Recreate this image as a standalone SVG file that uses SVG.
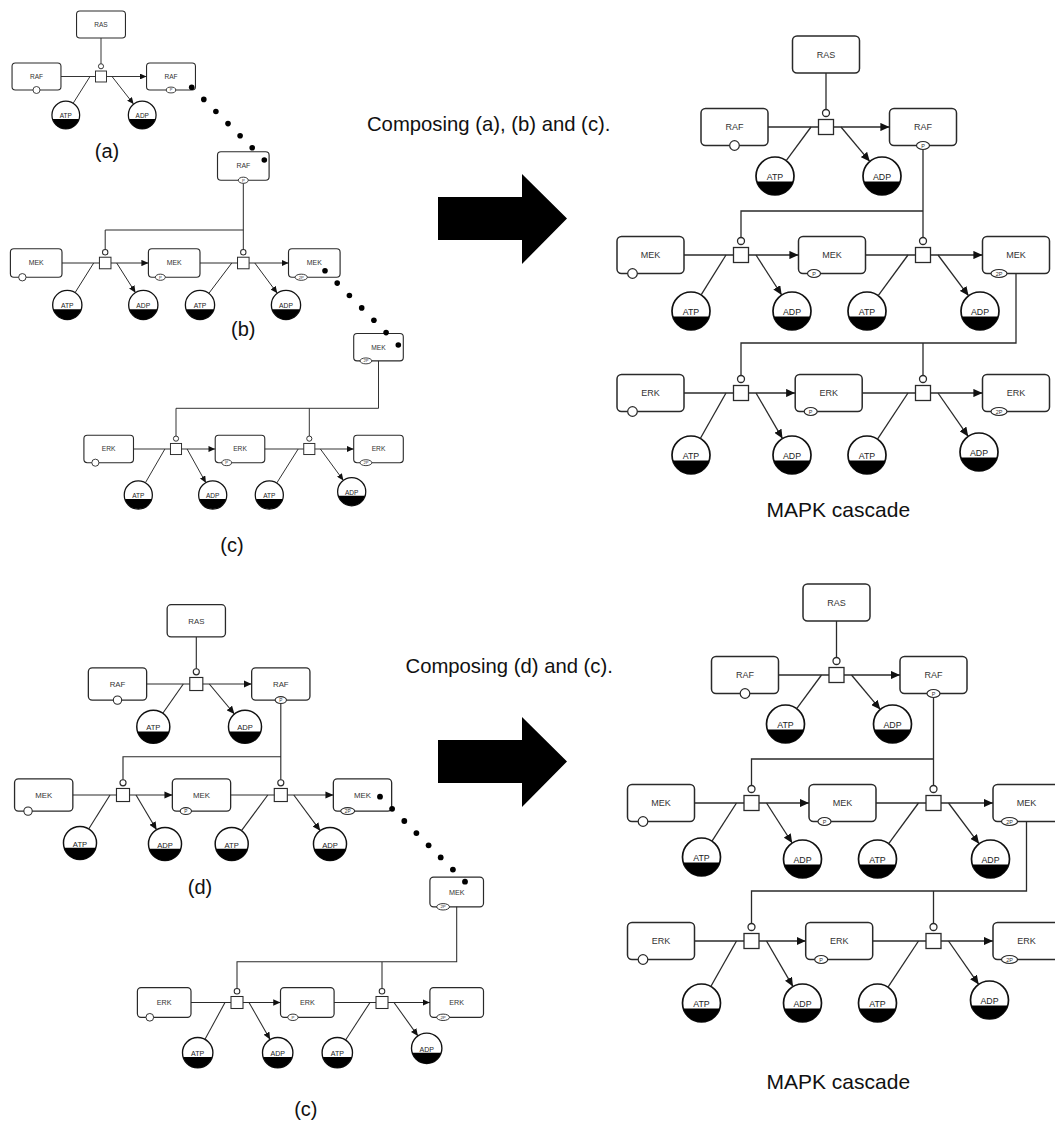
<svg xmlns="http://www.w3.org/2000/svg" xmlns:xlink="http://www.w3.org/1999/xlink" width="1055" height="1122" viewBox="0 0 1055 1122">
  <style>
    .bxr{fill:#fff;stroke:#2a2a2a;stroke-width:1.5}
    .uc{fill:#fff;stroke:#2a2a2a;stroke-width:1.2}
    .lb{font-family:"Liberation Sans",Arial,Helvetica,sans-serif;font-size:9px;fill:#333;text-anchor:middle}
    .sv{font-family:"Liberation Sans",Arial,sans-serif;font-size:5.5px;fill:#333;text-anchor:middle}
    .ch{fill:#fff;stroke:#111;stroke-width:1.7}
    .cl{font-family:"Liberation Sans",Arial,sans-serif;font-size:8.8px;fill:#222;text-anchor:middle}
    .pr{fill:#fff;stroke:#2a2a2a;stroke-width:1.3}
    .cn path{fill:none;stroke:#2a2a2a}
    .cn path.ar{marker-end:url(#ah)}
    .w130 path{stroke-width:1.3}
    .w095 path{stroke-width:0.95}
    .w100 path{stroke-width:1.0}
    .w096 path{stroke-width:0.96}
    .w113 path{stroke-width:1.13}
    .w104 path{stroke-width:1.04}
    .dots circle{fill:#000}
    .cap{font-family:"Liberation Sans",Arial,Helvetica,sans-serif;fill:#111;text-anchor:middle}
  </style>
  <defs>
    <marker id="ah" viewBox="0 0 10 9" refX="10" refY="4.5" markerWidth="7" markerHeight="6.3" orient="auto" markerUnits="strokeWidth">
      <path d="M0,0 L10,4.5 L0,9 Z" fill="#111"/>
    </marker>
    <!-- macromolecule outline -->
    <rect id="bx" x="-33.5" y="-18.5" width="67" height="37" rx="4.5" class="bxr"/>
    <!-- macromolecules with their state / unit-of-information glyphs -->
    <g id="n-ras"><use href="#bx"/><text class="lb" y="3.2">RAS</text></g>
    <g id="n-raf"><use href="#bx"/><text class="lb" y="3.2">RAF</text><circle cx="0" cy="18.5" r="4.8" class="uc"/></g>
    <g id="n-rafp"><use href="#bx"/><text class="lb" y="3.2">RAF</text><ellipse cx="0" cy="18.5" rx="6.5" ry="4" class="uc"/><text class="sv" y="20.5">P</text></g>
    <g id="n-mek"><use href="#bx"/><text class="lb" y="3.2">MEK</text><circle cx="-18" cy="18.5" r="4.8" class="uc"/></g>
    <g id="n-mekp"><use href="#bx"/><text class="lb" y="3.2">MEK</text><ellipse cx="-18" cy="18.5" rx="6.5" ry="4" class="uc"/><text class="sv" x="-18" y="20.5">P</text></g>
    <g id="n-mek2p"><use href="#bx"/><text class="lb" y="3.2">MEK</text><ellipse cx="-17" cy="18.5" rx="8" ry="4" class="uc"/><text class="sv" x="-17" y="20.5">2P</text></g>
    <g id="n-erk"><use href="#bx"/><text class="lb" y="3.2">ERK</text><circle cx="-18" cy="18.5" r="4.8" class="uc"/></g>
    <g id="n-erkp"><use href="#bx"/><text class="lb" y="3.2">ERK</text><ellipse cx="-18" cy="18.5" rx="6.5" ry="4" class="uc"/><text class="sv" x="-18" y="20.5">P</text></g>
    <g id="n-erk2p"><use href="#bx"/><text class="lb" y="3.2">ERK</text><ellipse cx="-17" cy="18.5" rx="8" ry="4" class="uc"/><text class="sv" x="-17" y="20.5">2P</text></g>
    <!-- simple chemicals with clone marker -->
    <g id="n-atp"><circle r="19" class="ch"/><path d="M-18.2,5.5 A19,19 0 0 0 18.2,5.5 Z" fill="#000"/><text class="cl" y="4.2">ATP</text></g>
    <g id="n-adp"><circle r="19" class="ch"/><path d="M-18.2,5.5 A19,19 0 0 0 18.2,5.5 Z" fill="#000"/><text class="cl" y="4.2">ADP</text></g>
    <!-- process node with catalysis port -->
    <g id="n-proc"><rect x="-7.5" y="-7.5" width="15" height="15" class="pr"/><circle cy="-14" r="3.5" class="pr"/></g>
  </defs>

  <rect width="1055" height="1122" fill="#fff"/>

  <!-- ===================== nodes ===================== -->
  <g id="nodes">
    <!-- (a) -->
    <g id="a-ras"><use href="#n-ras" transform="translate(101,24.5) scale(0.73)"/></g>
    <g id="a-raf"><use href="#n-raf" transform="translate(36.5,76.5) scale(0.73)"/></g>
    <g id="a-rafp"><use href="#n-rafp" transform="translate(171,76.5) scale(0.73)"/></g>
    <g id="a-r1"><use href="#n-proc" transform="translate(101,76.5) scale(0.73)"/></g>
    <g id="a-atp"><use href="#n-atp" transform="translate(65.8,115) scale(0.73)"/></g>
    <g id="a-adp"><use href="#n-adp" transform="translate(142.2,115) scale(0.73)"/></g>

    <!-- (b) -->
    <g id="b-rafp"><use href="#n-rafp" transform="translate(243.3,166) scale(0.77)"/></g>
    <g id="b-mek"><use href="#n-mek" transform="translate(36.2,263) scale(0.77)"/></g>
    <g id="b-r1"><use href="#n-proc" transform="translate(105.2,263) scale(0.77)"/></g>
    <g id="b-mekp"><use href="#n-mekp" transform="translate(174.2,263) scale(0.77)"/></g>
    <g id="b-r2"><use href="#n-proc" transform="translate(243.3,263) scale(0.77)"/></g>
    <g id="b-mek2p"><use href="#n-mek2p" transform="translate(314.3,263) scale(0.77)"/></g>
    <g id="b-atp1"><use href="#n-atp" transform="translate(67.3,305) scale(0.77)"/></g>
    <g id="b-adp1"><use href="#n-adp" transform="translate(143.3,305) scale(0.77)"/></g>
    <g id="b-atp2"><use href="#n-atp" transform="translate(200,305) scale(0.77)"/></g>
    <g id="b-adp2"><use href="#n-adp" transform="translate(286,305) scale(0.77)"/></g>

    <!-- (c), upper copy -->
    <g id="c1-mek2p"><use href="#n-mek2p" transform="translate(378.5,347.2) scale(0.74)"/></g>
    <g id="c1-erk"><use href="#n-erk" transform="translate(108.7,449) scale(0.74)"/></g>
    <g id="c1-r1"><use href="#n-proc" transform="translate(176,449) scale(0.74)"/></g>
    <g id="c1-erkp"><use href="#n-erkp" transform="translate(240,449) scale(0.74)"/></g>
    <g id="c1-r2"><use href="#n-proc" transform="translate(309.3,449) scale(0.74)"/></g>
    <g id="c1-erk2p"><use href="#n-erk2p" transform="translate(378.5,449) scale(0.74)"/></g>
    <g id="c1-atp1"><use href="#n-atp" transform="translate(138.3,495) scale(0.74)"/></g>
    <g id="c1-adp1"><use href="#n-adp" transform="translate(212.7,495) scale(0.74)"/></g>
    <g id="c1-atp2"><use href="#n-atp" transform="translate(269.3,495) scale(0.74)"/></g>
    <g id="c1-adp2"><use href="#n-adp" transform="translate(351.7,491.7) scale(0.74)"/></g>

    <!-- (d) -->
    <g id="d-ras"><use href="#n-ras" transform="translate(196.3,620.8) scale(0.87)"/></g>
    <g id="d-raf"><use href="#n-raf" transform="translate(117.5,684) scale(0.87)"/></g>
    <g id="d-r0"><use href="#n-proc" transform="translate(196.3,684) scale(0.87)"/></g>
    <g id="d-rafp"><use href="#n-rafp" transform="translate(280.8,684) scale(0.87)"/></g>
    <g id="d-atp0"><use href="#n-atp" transform="translate(153.3,726.7) scale(0.87)"/></g>
    <g id="d-adp0"><use href="#n-adp" transform="translate(245,726.7) scale(0.87)"/></g>
    <g id="d-mek"><use href="#n-mek" transform="translate(43.7,795) scale(0.87)"/></g>
    <g id="d-r1"><use href="#n-proc" transform="translate(123,795) scale(0.87)"/></g>
    <g id="d-mekp"><use href="#n-mekp" transform="translate(201.5,795) scale(0.87)"/></g>
    <g id="d-r2"><use href="#n-proc" transform="translate(280.8,795) scale(0.87)"/></g>
    <g id="d-mek2p"><use href="#n-mek2p" transform="translate(362.5,795) scale(0.87)"/></g>
    <g id="d-atp1"><use href="#n-atp" transform="translate(80,843) scale(0.87)"/></g>
    <g id="d-adp1"><use href="#n-adp" transform="translate(165,844) scale(0.87)"/></g>
    <g id="d-atp2"><use href="#n-atp" transform="translate(231.7,844) scale(0.87)"/></g>
    <g id="d-adp2"><use href="#n-adp" transform="translate(330,844) scale(0.87)"/></g>

    <!-- (c), lower copy -->
    <g id="c2-mek2p"><use href="#n-mek2p" transform="translate(456.7,892) scale(0.8)"/></g>
    <g id="c2-erk"><use href="#n-erk" transform="translate(164.2,1002.5) scale(0.8)"/></g>
    <g id="c2-r1"><use href="#n-proc" transform="translate(237,1002.5) scale(0.8)"/></g>
    <g id="c2-erkp"><use href="#n-erkp" transform="translate(307.3,1002.5) scale(0.8)"/></g>
    <g id="c2-r2"><use href="#n-proc" transform="translate(382,1002.5) scale(0.8)"/></g>
    <g id="c2-erk2p"><use href="#n-erk2p" transform="translate(456.7,1002.5) scale(0.8)"/></g>
    <g id="c2-atp1"><use href="#n-atp" transform="translate(197.7,1052.7) scale(0.8)"/></g>
    <g id="c2-adp1"><use href="#n-adp" transform="translate(277.7,1052.7) scale(0.8)"/></g>
    <g id="c2-atp2"><use href="#n-atp" transform="translate(337.3,1052.7) scale(0.8)"/></g>
    <g id="c2-adp2"><use href="#n-adp" transform="translate(426.7,1048.3) scale(0.8)"/></g>

    <!-- composed cascade, upper -->
    <g id="m1-ras"><use href="#n-ras" transform="translate(826,54.5)"/></g>
    <g id="m1-raf"><use href="#n-raf" transform="translate(734.5,127)"/></g>
    <g id="m1-r0"><use href="#n-proc" transform="translate(826,127)"/></g>
    <g id="m1-rafp"><use href="#n-rafp" transform="translate(923,127)"/></g>
    <g id="m1-atp0"><use href="#n-atp" transform="translate(775,176)"/></g>
    <g id="m1-adp0"><use href="#n-adp" transform="translate(882,176)"/></g>
    <g id="m1-mek"><use href="#n-mek" transform="translate(650.5,255)"/></g>
    <g id="m1-r1"><use href="#n-proc" transform="translate(741,255)"/></g>
    <g id="m1-mekp"><use href="#n-mekp" transform="translate(832,255)"/></g>
    <g id="m1-r2"><use href="#n-proc" transform="translate(923,255)"/></g>
    <g id="m1-mek2p"><use href="#n-mek2p" transform="translate(1016,255)"/></g>
    <g id="m1-atp1"><use href="#n-atp" transform="translate(691,311)"/></g>
    <g id="m1-adp1"><use href="#n-adp" transform="translate(792,311)"/></g>
    <g id="m1-atp2"><use href="#n-atp" transform="translate(867,311)"/></g>
    <g id="m1-adp2"><use href="#n-adp" transform="translate(980,311)"/></g>
    <g id="m1-erk"><use href="#n-erk" transform="translate(650.5,393)"/></g>
    <g id="m1-r3"><use href="#n-proc" transform="translate(741,393)"/></g>
    <g id="m1-erkp"><use href="#n-erkp" transform="translate(828.7,393)"/></g>
    <g id="m1-r4"><use href="#n-proc" transform="translate(923,393)"/></g>
    <g id="m1-erk2p"><use href="#n-erk2p" transform="translate(1016,393)"/></g>
    <g id="m1-atp3"><use href="#n-atp" transform="translate(691,455)"/></g>
    <g id="m1-adp3"><use href="#n-adp" transform="translate(792,455)"/></g>
    <g id="m1-atp4"><use href="#n-atp" transform="translate(867,455)"/></g>
    <g id="m1-adp4"><use href="#n-adp" transform="translate(979,452)"/></g>

    <!-- composed cascade, lower (same layout, shifted) -->
    <g transform="translate(10.5,548)">
      <g id="m2-ras"><use href="#n-ras" transform="translate(826,54.5)"/></g>
      <g id="m2-raf"><use href="#n-raf" transform="translate(734.5,127)"/></g>
      <g id="m2-r0"><use href="#n-proc" transform="translate(826,127)"/></g>
      <g id="m2-rafp"><use href="#n-rafp" transform="translate(923,127)"/></g>
      <g id="m2-atp0"><use href="#n-atp" transform="translate(775,176)"/></g>
      <g id="m2-adp0"><use href="#n-adp" transform="translate(882,176)"/></g>
      <g id="m2-mek"><use href="#n-mek" transform="translate(650.5,255)"/></g>
      <g id="m2-r1"><use href="#n-proc" transform="translate(741,255)"/></g>
      <g id="m2-mekp"><use href="#n-mekp" transform="translate(832,255)"/></g>
      <g id="m2-r2"><use href="#n-proc" transform="translate(923,255)"/></g>
      <g id="m2-mek2p"><use href="#n-mek2p" transform="translate(1016,255)"/></g>
      <g id="m2-atp1"><use href="#n-atp" transform="translate(691,309)"/></g>
      <g id="m2-adp1"><use href="#n-adp" transform="translate(792,311)"/></g>
      <g id="m2-atp2"><use href="#n-atp" transform="translate(867,311)"/></g>
      <g id="m2-adp2"><use href="#n-adp" transform="translate(980,311)"/></g>
      <g id="m2-erk"><use href="#n-erk" transform="translate(650.5,393)"/></g>
      <g id="m2-r3"><use href="#n-proc" transform="translate(741,393)"/></g>
      <g id="m2-erkp"><use href="#n-erkp" transform="translate(828.7,393)"/></g>
      <g id="m2-r4"><use href="#n-proc" transform="translate(923,393)"/></g>
      <g id="m2-erk2p"><use href="#n-erk2p" transform="translate(1016,393)"/></g>
      <g id="m2-atp3"><use href="#n-atp" transform="translate(691,455)"/></g>
      <g id="m2-adp3"><use href="#n-adp" transform="translate(792,455)"/></g>
      <g id="m2-atp4"><use href="#n-atp" transform="translate(867,455)"/></g>
      <g id="m2-adp4"><use href="#n-adp" transform="translate(979,452)"/></g>
    </g>
  </g>

  <!-- ===================== connectors ===================== -->
  <g id="connectors" class="cn">
    <g id="e-a" class="w095">
      <path d="M101,38 V63.7"/>
      <path d="M61,76.5 H95.5"/>
      <path d="M73.2,103.2 L90,76.5"/>
      <path class="ar" d="M106.5,76.5 H146.5"/>
      <path class="ar" d="M112,76.5 L133.6,104.1"/>
    </g>
    <g id="e-b" class="w100">
      <path d="M243.3,183.4 V249.5 M243.3,230 H105.2 V249.5"/>
      <path d="M62,263 H99.4"/>
      <path d="M75.1,292.6 L93.7,263"/>
      <path class="ar" d="M111,263 H148.4"/>
      <path class="ar" d="M116.7,263 L135.5,292.7"/>
      <path d="M200,263 H237.5"/>
      <path d="M208.8,293.4 L231.8,263"/>
      <path class="ar" d="M249.1,263 H288.5"/>
      <path class="ar" d="M254.8,263 L277.3,293.3"/>
    </g>
    <g id="e-c1" class="w096">
      <path d="M378.5,360.9 V408.3 H176 V436 M309.3,408.3 V436"/>
      <path d="M133.5,449 H170.45"/>
      <path d="M145.3,482.9 L164.9,449"/>
      <path class="ar" d="M181.55,449 H215.2"/>
      <path class="ar" d="M187.1,449 L205.9,482.8"/>
      <path d="M264.8,449 H303.75"/>
      <path d="M276.7,483.1 L298.2,449"/>
      <path class="ar" d="M314.85,449 H353.7"/>
      <path class="ar" d="M320.4,449 L343.4,480.4"/>
    </g>
    <g id="e-d" class="w113">
      <path d="M196.3,636.9 V668.8"/>
      <path d="M146.65,684 H189.8"/>
      <path d="M162.8,713.2 L183.3,684"/>
      <path class="ar" d="M202.8,684 H251.65"/>
      <path class="ar" d="M209.3,684 L234.4,714"/>
      <path d="M280.8,703.6 V779.8 M280.8,756.7 H123 V779.8"/>
      <path d="M72.85,795 H116.5"/>
      <path d="M88.7,829 L110,795"/>
      <path class="ar" d="M129.5,795 H172.35"/>
      <path class="ar" d="M136,795 L156.6,829.8"/>
      <path d="M230.65,795 H274.3"/>
      <path d="M241.5,830.7 L267.8,795"/>
      <path class="ar" d="M287.3,795 H333.35"/>
      <path class="ar" d="M293.8,795 L320.2,830.7"/>
    </g>
    <g id="e-c2" class="w104">
      <path d="M456.7,906.8 V961.7 H237 V988.5 M382,961.7 V988.5"/>
      <path d="M191,1002.5 H231"/>
      <path d="M205,1039.3 L225,1002.5"/>
      <path class="ar" d="M243,1002.5 H280.5"/>
      <path class="ar" d="M249,1002.5 L270.1,1039.5"/>
      <path d="M334.1,1002.5 H376"/>
      <path d="M345.6,1040 L370,1002.5"/>
      <path class="ar" d="M388,1002.5 H429.9"/>
      <path class="ar" d="M394,1002.5 L417.9,1035.9"/>
    </g>
    <g id="e-m1" class="w130">
      <path d="M826,73 V109.5"/>
      <path d="M768,127 H818.5"/>
      <path d="M786.2,160.7 L811,127"/>
      <path class="ar" d="M833.5,127 H889.5"/>
      <path class="ar" d="M841,127 L869.8,161.4"/>
      <path d="M923,149.5 V237.5 M923,211 H741 V237.5"/>
      <path d="M684,255 H733.5"/>
      <path d="M701.1,294.9 L726,255"/>
      <path class="ar" d="M748.5,255 H798.5"/>
      <path class="ar" d="M756,255 L781.7,295"/>
      <path d="M865.5,255 H915.5"/>
      <path d="M878.2,295.7 L908,255"/>
      <path class="ar" d="M930.5,255 H982.5"/>
      <path class="ar" d="M938,255 L968.6,295.8"/>
      <path d="M1016,273.5 V343 H741 V375.5 M923,343 V375.5"/>
      <path d="M684,393 H733.5"/>
      <path d="M700.3,438.5 L726,393"/>
      <path class="ar" d="M748.5,393 H795.2"/>
      <path class="ar" d="M756,393 L782.5,438.6"/>
      <path d="M862.2,393 H915.5"/>
      <path d="M877.5,439.2 L908,393"/>
      <path class="ar" d="M930.5,393 H982.5"/>
      <path class="ar" d="M938,393 L968.2,436.4"/>
    </g>
    <g id="e-m2" class="w130" transform="translate(10.5,548)">
      <path d="M826,73 V109.5"/>
      <path d="M768,127 H818.5"/>
      <path d="M786.2,160.7 L811,127"/>
      <path class="ar" d="M833.5,127 H889.5"/>
      <path class="ar" d="M841,127 L869.8,161.4"/>
      <path d="M923,149.5 V237.5 M923,211 H741 V237.5"/>
      <path d="M684,255 H733.5"/>
      <path d="M701.5,293.2 L726,255"/>
      <path class="ar" d="M748.5,255 H798.5"/>
      <path class="ar" d="M756,255 L781.7,295"/>
      <path d="M865.5,255 H915.5"/>
      <path d="M878.2,295.7 L908,255"/>
      <path class="ar" d="M930.5,255 H982.5"/>
      <path class="ar" d="M938,255 L968.6,295.8"/>
      <path d="M1016,273.5 V343 H741 V375.5 M923,343 V375.5"/>
      <path d="M684,393 H733.5"/>
      <path d="M700.3,438.5 L726,393"/>
      <path class="ar" d="M748.5,393 H795.2"/>
      <path class="ar" d="M756,393 L782.5,438.6"/>
      <path d="M862.2,393 H915.5"/>
      <path d="M877.5,439.2 L908,393"/>
      <path class="ar" d="M930.5,393 H982.5"/>
      <path class="ar" d="M938,393 L968.2,436.4"/>
    </g>
    <!-- dotted identity links between fragments -->
    <g id="link-a-b" class="dots">
      <circle cx="191.7" cy="87.3" r="2.8"/><circle cx="203.8" cy="99.4" r="2.8"/><circle cx="215.9" cy="111.5" r="2.8"/>
      <circle cx="228" cy="123.6" r="2.8"/><circle cx="240.1" cy="135.7" r="2.8"/><circle cx="252.2" cy="147.8" r="2.8"/>
      <circle cx="264.3" cy="160" r="2.8"/>
    </g>
    <g id="link-b-c" class="dots">
      <circle cx="325" cy="270.7" r="2.8"/><circle cx="337.2" cy="283.1" r="2.8"/><circle cx="349.4" cy="295.5" r="2.8"/>
      <circle cx="361.7" cy="307.9" r="2.8"/><circle cx="373.9" cy="320.2" r="2.8"/><circle cx="386.1" cy="332.6" r="2.8"/>
      <circle cx="398.3" cy="345" r="2.8"/>
    </g>
    <g id="link-d-c" class="dots">
      <circle cx="380" cy="796.7" r="2.9"/><circle cx="392.1" cy="808.8" r="2.9"/><circle cx="404.3" cy="821" r="2.9"/>
      <circle cx="416.4" cy="833.1" r="2.9"/><circle cx="428.6" cy="845.3" r="2.9"/><circle cx="440.7" cy="857.4" r="2.9"/>
      <circle cx="452.9" cy="869.6" r="2.9"/><circle cx="465" cy="881.7" r="2.9"/>
    </g>
  </g>

  <!-- composition arrows -->
  <g id="compose-arrows" fill="#000">
    <polygon points="438,197 522,197 522,174 567,218.5 522,264 522,240 438,240"/>
    <polygon points="438,740 522,740 522,717 567,761.5 522,807 522,783 438,783"/>
  </g>

  <!-- captions -->
  <g id="captions" class="cap">
    <text x="107" y="158" font-size="20">(a)</text>
    <text x="243.3" y="335.5" font-size="20">(b)</text>
    <text x="232" y="552" font-size="20">(c)</text>
    <text x="200" y="894" font-size="20">(d)</text>
    <text x="305.8" y="1115.5" font-size="20">(c)</text>
    <text x="488.7" y="130.5" font-size="20.3">Composing (a), (b) and (c).</text>
    <text x="509.2" y="672.5" font-size="20.3">Composing (d) and (c).</text>
    <text x="838.3" y="516.5" font-size="21">MAPK cascade</text>
    <text x="838.3" y="1089" font-size="21">MAPK cascade</text>
  </g>
</svg>
